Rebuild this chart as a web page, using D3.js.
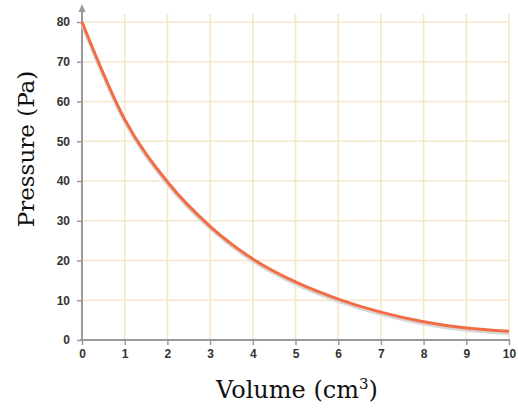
<!DOCTYPE html>
<html>
<head>
<meta charset="utf-8">
<script src="https://cdn.jsdelivr.net/npm/d3@7"></script>
<style>
  body { margin: 0; background: #fff; }
  svg { display: block; }
</style>
</head>
<body>
<div id="chart"></div>
<script>
const volume = [0, 1, 2, 3, 4, 5, 6, 7, 8, 9, 10];
const pressure = [80, 55.5, 39.8, 28.6, 20.4, 14.6, 10.3, 7.0, 4.6, 3.0, 2.2];
const xTicks = [0, 1, 2, 3, 4, 5, 6, 7, 8, 9, 10];
const yTicks = [0, 10, 20, 30, 40, 50, 60, 70, 80];

const width = 518, height = 416;
const margin = { top: 22, right: 9, bottom: 76, left: 82 };

const svg = d3.select("#chart").append("svg")
    .attr("width", width)
    .attr("height", height);

const x = d3.scaleLinear().domain([0, 10]).range([margin.left, width - margin.right]);
const y = d3.scaleLinear().domain([0, 80]).range([height - margin.bottom, margin.top]);

// grid
const grid = svg.append("g").attr("stroke", "#f5e7cb").attr("stroke-width", 1.6);
grid.selectAll("line.v")
    .data(xTicks.slice(1))
    .enter().append("line")
    .attr("x1", d => x(d)).attr("x2", d => x(d))
    .attr("y1", 14).attr("y2", y(0));
grid.selectAll("line.h")
    .data(yTicks.slice(1))
    .enter().append("line")
    .attr("x1", x(0)).attr("x2", x(10))
    .attr("y1", d => y(d)).attr("y2", d => y(d));

// axes
const xAxis = svg.append("g")
    .attr("transform", `translate(0,${y(0)})`)
    .call(d3.axisBottom(x).tickValues(xTicks).tickSize(5).tickPadding(4).tickFormat(d3.format("d")));
xAxis.select(".domain").attr("d", `M${x(0) - 2},0H${x(10) + 1}`);

const yAxis = svg.append("g")
    .attr("transform", `translate(${x(0)},0)`)
    .call(d3.axisLeft(y).tickValues(yTicks).tickSize(5).tickPadding(7).tickFormat(d3.format("d")));
yAxis.select(".domain").attr("d", `M0,${y(0)}V8`);

svg.selectAll(".domain").attr("stroke", "#9a9a9a").attr("stroke-width", 2);
svg.selectAll(".tick line").attr("stroke", "#9a9a9a").attr("stroke-width", 1.5);
svg.selectAll(".tick text")
    .attr("fill", "#333")
    .style("font-family", "Liberation Sans, Arial, sans-serif")
    .style("font-weight", "bold")
    .style("font-size", "12px");

// arrow head on y axis
svg.append("path")
    .attr("d", `M${x(0) - 3.5},${12}L${x(0)},${4}L${x(0) + 3.5},${12}Z`)
    .attr("fill", "#9a9a9a");

// curve
const line = d3.line()
    .x((d, i) => x(volume[i]))
    .y(d => y(d))
    .curve(d3.curveMonotoneX);

svg.append("path")
    .datum(pressure)
    .attr("d", line)
    .attr("fill", "none")
    .attr("stroke", "#d6d6d6")
    .attr("stroke-width", 3.5)
    .attr("transform", "translate(0,2)");

svg.append("path")
    .datum(pressure)
    .attr("d", line)
    .attr("fill", "none")
    .attr("stroke", "#f26d45")
    .attr("stroke-width", 3);

// axis titles
svg.append("text")
    .attr("x", 297)
    .attr("y", 398)
    .attr("text-anchor", "middle")
    .style("font-family", "DejaVu Serif, serif")
    .style("font-size", "24px")
    .attr("fill", "#111")
    .html('Volume (cm<tspan dy="-9" font-size="15px">3</tspan><tspan dy="9">)</tspan>');

svg.append("text")
    .attr("transform", "translate(34,149) rotate(-90)")
    .attr("text-anchor", "middle")
    .style("font-family", "DejaVu Serif, serif")
    .style("font-size", "23px")
    .attr("fill", "#111")
    .text("Pressure (Pa)");
</script>
</body>
</html>
